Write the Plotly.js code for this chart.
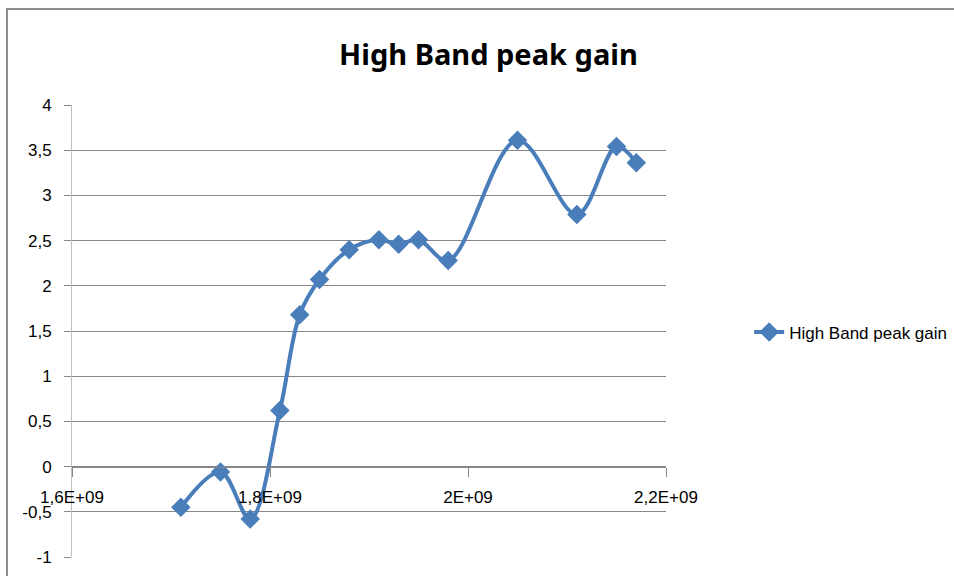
<!DOCTYPE html>
<html>
<head>
<meta charset="utf-8">
<script src="https://cdn.plot.ly/plotly-3.0.1.min.js"></script>
<style>
  html, body { margin: 0; padding: 0; background: #fff; }
  #wrap { position: relative; width: 954px; height: 576px; overflow: hidden; }
  #chart { position: absolute; left: 0; top: 0; width: 954px; height: 576px; }
  #frame { position: absolute; left: 6px; top: 8px; width: 2000px; height: 2000px;
           border-top: 2px solid #8e8e8e; border-left: 2px solid #8e8e8e; pointer-events: none; }
</style>
</head>
<body>
<div id="wrap">
  <div id="chart"></div>
  <div id="frame"></div>
</div>
<script>
// Data
const seriesName = "High Band peak gain";
const frequency = [1.71e9, 1.75e9, 1.78e9, 1.81e9, 1.83e9, 1.85e9, 1.88e9, 1.91e9, 1.93e9, 1.95e9, 1.98e9, 2.05e9, 2.11e9, 2.15e9, 2.17e9];
const gain = [-0.45, -0.06, -0.58, 0.62, 1.68, 2.07, 2.40, 2.51, 2.46, 2.51, 2.28, 3.61, 2.79, 3.54, 3.36];
const xTickVals = [1.6e9, 1.8e9, 2.0e9, 2.2e9];
const xTickText = ["1,6E+09", "1,8E+09", "2E+09", "2,2E+09"];
const yTickVals = [-1, -0.5, 0, 0.5, 1, 1.5, 2, 2.5, 3, 3.5, 4];
const yTickText = ["-1", "-0,5", "0", "0,5", "1", "1,5", "2", "2,5", "3", "3,5", "4"];

const blue = "#4a7ebb";
const font = "Liberation Sans, Arial, sans-serif";

const trace = {
  x: frequency,
  y: gain,
  name: seriesName,
  type: "scatter",
  mode: "lines+markers",
  line: { color: blue, width: 4, shape: "spline", smoothing: 1 },
  marker: { symbol: "diamond", size: 15, color: blue },
  showlegend: true
};

const layout = {
  width: 954,
  height: 576,
  margin: { l: 72, r: 288, t: 105, b: 19, pad: 0, autoexpand: false },
  paper_bgcolor: "rgba(0,0,0,0)",
  plot_bgcolor: "#ffffff",
  font: { family: font, size: 17, color: "#000" },
  title: {
    text: "<b>High Band peak gain</b>",
    font: { family: "Noto Sans, sans-serif", size: 29, color: "#000" },
    x: 0.512, xref: "container", xanchor: "center",
    y: 0.905, yref: "container", yanchor: "middle"
  },
  xaxis: {
    range: [1.6e9, 2.2e9],
    anchor: "free",
    position: 0.2,
    tickmode: "array",
    tickvals: xTickVals,
    ticktext: xTickText,
    showgrid: false,
    zeroline: false,
    showline: true,
    linecolor: "#878787",
    linewidth: 1.5,
    ticks: "outside",
    ticklen: 9,
    tickcolor: "#878787",
    tickwidth: 1,
    ticklabelstandoff: 5,
    tickfont: { family: font, size: 17, color: "#000" }
  },
  yaxis: {
    range: [-1, 4],
    tickmode: "array",
    tickvals: yTickVals,
    ticktext: yTickText,
    showgrid: true,
    gridcolor: "#878787",
    gridwidth: 1,
    zeroline: false,
    showline: true,
    linecolor: "#bfbfbf",
    linewidth: 1,
    ticks: "outside",
    ticklen: 7,
    tickcolor: "#878787",
    tickwidth: 1,
    ticklabelstandoff: 9,
    tickfont: { family: font, size: 17, color: "#000" }
  },
  legend: {
    x: 1.14, xanchor: "left",
    y: 0.497, yanchor: "middle",
    bgcolor: "rgba(0,0,0,0)",
    borderwidth: 0,
    font: { family: font, size: 17, color: "#000" }
  },
  showlegend: true
};

Plotly.newPlot("chart", [trace], layout, { staticPlot: true, displayModeBar: false });
</script>
</body>
</html>
